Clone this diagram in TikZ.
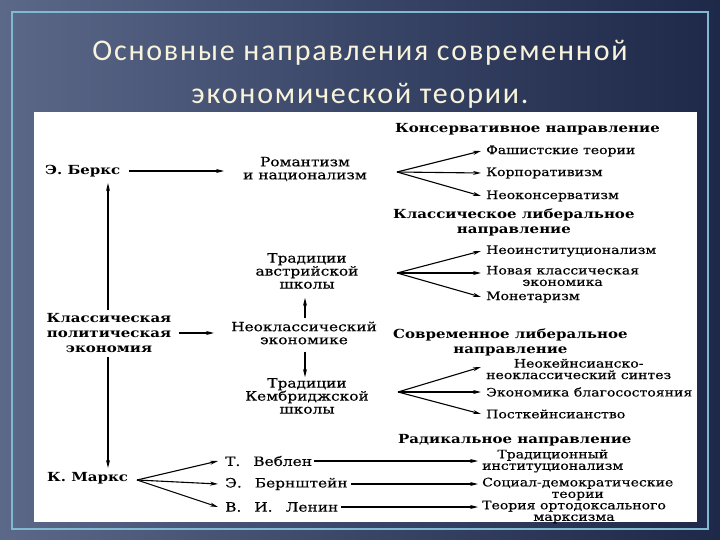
\documentclass[tikz,border=0pt]{standalone}
\usepackage{fontspec}
\setmainfont{DejaVu Serif}[FakeStretch=1.2]
\newfontfamily\scanfont{DejaVu Serif}[FakeStretch=1.2, FakeBold=0.4]
\newfontfamily\titlefont{Carlito}[LetterSpace=6]
\usepackage{tikz}
\usetikzlibrary{arrows.meta, positioning}
\definecolor{slidelight}{RGB}{92,104,136}
\definecolor{slidemid}{RGB}{58,70,104}
\definecolor{slidedark}{RGB}{30,40,72}
\definecolor{framecyan}{RGB}{130,185,210}
\definecolor{titlecream}{RGB}{248,244,220}
\newcommand{\gap}{\hspace{13pt}}

\begin{document}
\begin{tikzpicture}[x=1pt, y=-1pt,
    heading/.style={font=\bfseries\fontsize{12.5}{15}\selectfont, align=center, inner sep=0pt, anchor=west},
    person/.style={font=\bfseries\fontsize{12.5}{15}\selectfont, align=center, inner sep=0pt},
    school/.style={font=\scanfont\fontsize{12.8}{13}\selectfont, align=center, inner sep=0pt},
    item/.style={font=\scanfont\fontsize{11.7}{11.5}\selectfont, align=center, inner sep=0pt, anchor=west},
    flow/.style={-{Stealth[length=8pt,width=4pt]}, line width=1.1pt},
    titleline/.style={font=\titlefont\fontsize{30}{36}\selectfont, text=titlecream, inner sep=0pt, anchor=base}
]
\useasboundingbox (0,0) rectangle (720,540);
\shade[left color=slidelight, right color=slidedark, middle color=slidemid] (0,0) rectangle (720,540);
\draw[framecyan, line width=1.5pt] (12,12) rectangle (708,529);
\fill[white] (34,112) rectangle (697,522);

\node[titleline] (title1) at (360,61) {Основные направления современной};
\node[titleline] (title2) at (360,104) {экономической теории.};

% left column
\node[person, anchor=west] (berks) at (45,171) {Э. Беркс};
\node[person] (classic) at (109,333) {Классическая\\политическая\\экономия};
\node[person, anchor=west] (marx) at (47,478) {К. Маркс};

% middle column
\node[school] (romant) at (305,169) {Романтизм\\и национализм};
\node[school] (austr) at (307,271) {Традиции\\австрийской\\школы};
\node[school] (neocl) at (304,333) {Неоклассический\\экономике};
\node[school] (cambr) at (307,396) {Традиции\\Кембриджской\\школы};
\node[school, anchor=west] (veblen) at (225,461) {Т.\gap Веблен};
\node[school, anchor=west] (bern) at (225,484) {Э.\gap Бернштейн};
\node[school, anchor=west] (lenin) at (225,507) {В.\gap И.\gap Ленин};

% right column
\node[heading] (cons) at (395,129) {Консервативное направление};
\node[item] (fash) at (486,151) {Фашистские теории};
\node[item] (korp) at (486,173) {Корпоративизм};
\node[item] (neocons) at (486,196) {Неоконсерватизм};

\node[heading] (klib) at (393,222) {Классическое либеральное\\направление};
\node[item] (neoinst) at (486,251) {Неоинституционализм};
\node[item] (newcl) at (486,276) {Новая классическая\\экономика};
\node[item] (monet) at (486,297) {Монетаризм};

\node[heading] (slib) at (393,342) {Современное либеральное\\направление};
\node[item] (neok) at (486,369) {Неокейнсианско-\\неоклассический синтез};
\node[item] (welf) at (486,392) {Экономика благосостояния};
\node[item] (postk) at (486,414) {Посткейнсианство};

\node[heading] (rad) at (398,440) {Радикальное направление};
\node[item] (trad) at (482,461) {Традиционный\\институционализм};
\node[item] (socdem) at (482,489) {Социал-демократические\\теории};
\node[item] (orth) at (482,512) {Теория ортодоксального\\марксизма};

% fan origins
\coordinate (consfan) at (397,172);
\coordinate (klibfan) at (397,273);
\coordinate (slibfan) at (398,392);
\coordinate (marxfan) at (137,480);

% left arrows
\draw[flow] ([xshift=8pt]berks.east) -- ([xshift=-19pt]romant.west |- berks.east);
\draw[flow] ([xshift=7pt]classic.east) -- ([xshift=-17pt]neocl.west |- classic.east);
\draw[flow, shorten <=3pt] (classic.north -| 108,0) -- ([yshift=-6pt]108,0 |- berks.south);
\draw[flow, shorten <=4pt] (classic.south -| 108,0) -- ([yshift=4pt]108,0 |- marx.north);

% middle arrows
\draw[flow, shorten <=3pt, shorten >=9pt] (neocl.north -| 305,0) -- (305,0 |- austr.south);
\draw[flow, shorten <=7pt, shorten >=1pt] (neocl.south -| 305,0) -- (305,0 |- cambr.north);

% fans
\draw[flow] (consfan) -- ([xshift=-5pt]fash.west);
\draw[flow] (consfan) -- ([xshift=-5pt]korp.west);
\draw[flow] (consfan) -- ([xshift=-5pt]neocons.west);
\draw[flow] (klibfan) -- ([xshift=-5pt]neoinst.west);
\draw[flow] (klibfan) -- ([xshift=-5pt,yshift=3pt]newcl.west);
\draw[flow] (klibfan) -- ([xshift=-5pt]monet.west);
\draw[flow] (slibfan) -- ([xshift=-5pt,yshift=2pt]neok.west);
\draw[flow] (slibfan) -- ([xshift=-5pt]welf.west);
\draw[flow] (slibfan) -- ([xshift=-5pt]postk.west);
\draw[flow] (marxfan) -- ([xshift=-7pt]veblen.west);
\draw[flow] (marxfan) -- ([xshift=-7pt]bern.west);
\draw[flow] (marxfan) -- ([xshift=-7pt]lenin.west);

% radical lines
\draw[flow] ([xshift=2pt]veblen.east) -- ([xshift=-4pt]trad.west |- veblen.east);
\draw[flow] ([xshift=3pt]bern.east) -- ([xshift=-4pt]socdem.west |- bern.east);
\draw[flow] ([xshift=3pt]lenin.east) -- ([xshift=-4pt]orth.west |- lenin.east);
\end{tikzpicture}
\end{document}
